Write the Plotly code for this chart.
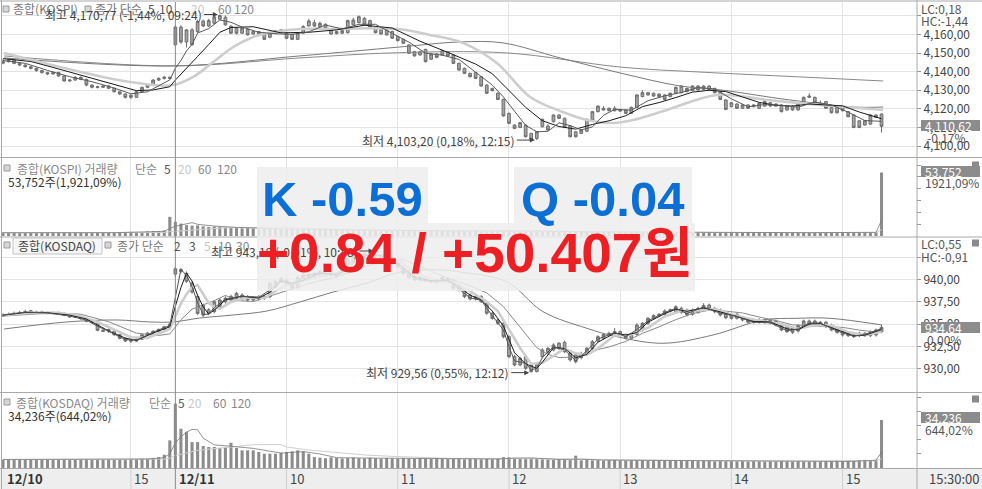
import plotly.graph_objects as go
from plotly.subplots import make_subplots

# 3-minute bars: 12/10 13:51 ~ 15:30 (31 bars), 12/11 09:00 ~ 15:30 (128 bars)
bar_idx = list(range(159))
hour_ticks = [23, 51, 71, 91, 111, 131, 151]
hour_labels = ['15', '10', '11', '12', '13', '14', '15']
day_ticks = [0, 31]
day_labels = ['12/10', '12/11']

# ---------------- KOSPI ----------------
kospi_open = [
    4144.6, 4145.4, 4146.3, 4144.5, 4143.6, 4142.7, 4141.8, 4140.6, 4139.5, 4138.8,
    4139.5, 4137.7, 4135.0, 4135.5, 4137.0, 4135.9, 4132.8, 4132.0, 4131.6, 4132.3,
    4131.1, 4129.2, 4128.0, 4127.4, 4126.2, 4129.2, 4131.6, 4132.8, 4135.5, 4136.4,
    4137.0, 4154.5, 4164.0, 4156.0, 4162.5, 4161.5, 4167.3, 4164.6, 4166.0, 4168.2,
    4169.3, 4164.5, 4163.4, 4160.7, 4162.8, 4161.6, 4160.3, 4160.7, 4158.5, 4160.7,
    4161.5, 4160.7, 4160.0, 4157.4, 4160.7, 4164.6, 4166.4, 4164.3, 4165.5, 4160.3,
    4161.6, 4160.7, 4161.0, 4165.2, 4166.4, 4168.7, 4167.5, 4163.4, 4162.8, 4162.8,
    4161.6, 4158.9, 4157.4, 4154.4, 4150.8, 4149.0, 4152.0, 4146.7, 4149.5, 4149.0,
    4150.8, 4149.0, 4144.5, 4141.8, 4139.1, 4139.5, 4137.3, 4132.8, 4131.0, 4128.4,
    4125.1, 4117.6, 4111.3, 4110.0, 4111.3, 4106.8, 4104.1, 4110.4, 4110.8, 4113.1,
    4116.7, 4114.9, 4110.8, 4107.7, 4106.8, 4108.0, 4114.0, 4118.5, 4120.3, 4120.3,
    4119.0, 4119.7, 4119.4, 4117.6, 4120.8, 4126.6, 4128.7, 4128.4, 4128.0, 4127.5,
    4126.6, 4128.4, 4128.7, 4129.3, 4129.8, 4132.3, 4130.5, 4132.3, 4131.0, 4129.3,
    4124.8, 4121.2, 4122.6, 4120.3, 4122.1, 4121.2, 4120.3, 4121.5, 4123.3, 4121.5,
    4122.1, 4119.4, 4121.5, 4119.4, 4122.6, 4126.2, 4126.2, 4123.0, 4123.9, 4120.8,
    4120.8, 4120.8, 4118.5, 4116.7, 4113.6, 4111.3, 4111.8, 4116.7, 4117.2]
kospi_high = [
    4146.8, 4147.2, 4146.6, 4145.0, 4144.0, 4143.0, 4142.2, 4141.0, 4140.0, 4140.2,
    4140.0, 4138.0, 4136.0, 4137.6, 4137.4, 4136.2, 4133.2, 4132.4, 4132.8, 4132.6,
    4131.4, 4129.6, 4128.4, 4127.8, 4129.6, 4132.0, 4133.4, 4136.0, 4137.0, 4137.8,
    4137.4, 4165.0, 4165.0, 4163.0, 4163.5, 4168.0, 4168.0, 4168.5, 4170.0, 4170.8,
    4170.3, 4165.0, 4164.0, 4164.0, 4163.5, 4162.0, 4162.0, 4161.0, 4161.0, 4162.5,
    4163.0, 4161.0, 4160.5, 4161.0, 4165.0, 4168.5, 4168.0, 4167.0, 4166.0, 4163.2,
    4162.0, 4162.5, 4168.0, 4169.0, 4170.3, 4169.5, 4168.0, 4164.0, 4163.2, 4163.2,
    4162.0, 4159.3, 4157.8, 4154.8, 4151.2, 4151.2, 4152.4, 4149.9, 4149.9, 4151.7,
    4151.2, 4149.4, 4144.9, 4142.2, 4139.5, 4139.9, 4137.7, 4133.2, 4131.4, 4128.8,
    4125.5, 4118.0, 4111.7, 4113.0, 4111.7, 4107.2, 4108.1, 4114.8, 4111.8, 4117.1,
    4117.1, 4115.3, 4111.2, 4108.1, 4109.0, 4114.8, 4118.9, 4121.9, 4121.5, 4120.7,
    4121.5, 4120.1, 4119.8, 4121.2, 4127.9, 4130.0, 4129.1, 4128.8, 4128.4, 4127.9,
    4128.8, 4132.0, 4132.7, 4131.4, 4132.7, 4132.7, 4132.7, 4132.7, 4131.4, 4129.7,
    4125.2, 4123.7, 4123.0, 4122.5, 4122.5, 4122.5, 4123.4, 4124.3, 4123.7, 4123.0,
    4122.5, 4121.9, 4121.9, 4123.0, 4126.6, 4128.4, 4126.6, 4124.5, 4124.3, 4121.2,
    4121.2, 4121.2, 4118.9, 4117.1, 4114.0, 4114.0, 4117.1, 4117.1, 4117.6]
kospi_low = [
    4144.0, 4145.0, 4144.0, 4143.0, 4142.2, 4141.2, 4140.0, 4139.0, 4138.2, 4138.4,
    4137.2, 4134.6, 4134.6, 4135.2, 4135.4, 4132.2, 4131.0, 4131.0, 4131.2, 4130.6,
    4128.8, 4127.4, 4125.6, 4125.4, 4126.0, 4128.8, 4131.2, 4132.4, 4135.0, 4135.8,
    4136.0, 4153.5, 4155.0, 4153.0, 4154.0, 4161.0, 4164.0, 4164.0, 4165.5, 4168.0,
    4164.8, 4160.3, 4160.0, 4160.3, 4159.5, 4160.0, 4159.8, 4157.0, 4158.0, 4160.3,
    4161.0, 4157.5, 4157.0, 4157.0, 4160.3, 4164.3, 4164.0, 4164.0, 4163.0, 4159.8,
    4160.0, 4160.3, 4160.5, 4165.0, 4166.0, 4165.0, 4163.5, 4160.6, 4159.9, 4159.4,
    4157.6, 4156.3, 4154.9, 4149.5, 4148.1, 4148.6, 4145.0, 4146.3, 4147.3, 4148.6,
    4148.1, 4144.1, 4140.5, 4138.7, 4136.9, 4136.0, 4131.9, 4128.0, 4129.4, 4124.7,
    4115.8, 4111.8, 4109.1, 4109.6, 4104.6, 4103.3, 4103.2, 4110.0, 4108.2, 4112.7,
    4114.5, 4109.6, 4104.6, 4104.6, 4106.4, 4107.6, 4113.6, 4118.1, 4119.0, 4118.6,
    4118.6, 4118.4, 4117.2, 4117.2, 4120.4, 4126.2, 4127.1, 4126.5, 4126.2, 4124.7,
    4126.2, 4128.0, 4128.3, 4128.9, 4129.4, 4129.8, 4130.1, 4129.8, 4128.3, 4124.7,
    4119.3, 4120.8, 4119.9, 4119.9, 4119.9, 4120.8, 4119.9, 4121.1, 4121.1, 4121.1,
    4118.1, 4119.0, 4119.0, 4119.0, 4122.2, 4125.8, 4122.9, 4121.7, 4119.9, 4117.5,
    4117.5, 4118.6, 4115.4, 4109.6, 4109.6, 4110.9, 4111.4, 4115.0, 4107.2]
kospi_close = [
    4145.4, 4146.3, 4144.5, 4143.6, 4142.7, 4141.8, 4140.6, 4139.5, 4138.8, 4139.5,
    4137.7, 4135.0, 4135.5, 4137.0, 4135.9, 4132.8, 4131.6, 4131.6, 4132.3, 4131.1,
    4129.2, 4128.0, 4126.2, 4126.2, 4129.2, 4131.6, 4132.8, 4135.5, 4136.4, 4137.0,
    4136.4, 4164.0, 4156.0, 4162.5, 4154.5, 4167.0, 4164.6, 4167.5, 4169.5, 4170.2,
    4165.2, 4160.7, 4160.7, 4163.4, 4159.8, 4160.3, 4161.6, 4157.4, 4160.7, 4162.1,
    4162.5, 4158.0, 4157.4, 4160.7, 4164.3, 4167.3, 4164.6, 4166.0, 4163.4, 4162.8,
    4160.5, 4162.1, 4167.5, 4167.8, 4169.6, 4165.2, 4163.9, 4161.0, 4160.3, 4159.8,
    4158.0, 4156.7, 4155.3, 4149.9, 4148.5, 4150.8, 4145.4, 4149.5, 4147.7, 4151.3,
    4148.5, 4144.5, 4140.9, 4139.1, 4137.3, 4136.4, 4132.3, 4128.4, 4129.8, 4125.1,
    4116.2, 4112.2, 4109.5, 4112.6, 4105.0, 4103.6, 4107.7, 4114.4, 4108.6, 4116.7,
    4114.9, 4110.0, 4105.0, 4105.0, 4108.6, 4114.4, 4118.5, 4121.5, 4119.4, 4119.0,
    4120.3, 4118.8, 4117.6, 4120.8, 4127.5, 4128.7, 4127.5, 4126.9, 4126.6, 4125.1,
    4128.4, 4131.6, 4132.3, 4131.0, 4132.3, 4130.2, 4132.3, 4130.2, 4128.7, 4125.1,
    4119.7, 4123.3, 4120.3, 4122.1, 4120.3, 4122.1, 4123.0, 4123.9, 4121.5, 4122.6,
    4118.5, 4121.5, 4119.4, 4122.6, 4126.2, 4126.9, 4123.3, 4122.1, 4120.3, 4117.9,
    4117.9, 4119.0, 4115.8, 4110.0, 4110.0, 4113.6, 4116.7, 4115.4, 4110.6]

# moving averages (bar index, value)
kospi_ma5_x = [0, 4, 8, 12, 16, 20, 23, 26, 30, 31, 32, 33, 34, 35, 37, 39, 41, 43, 46, 49,
               52, 55, 58, 61, 64, 67, 70, 73, 76, 79, 82, 85, 88, 90, 92, 94, 96, 98, 100, 102,
               104, 106, 108, 110, 113, 116, 119, 122, 125, 128, 131, 134, 137, 140, 143, 146,
               149, 152, 155, 158]
kospi_ma5 = [4146.0, 4144.5, 4140.7, 4137.3, 4134.6, 4131.2, 4128.1, 4129.2, 4135.6, 4141.9,
             4146.0, 4151.2, 4154.7, 4160.8, 4163.2, 4167.8, 4166.6, 4164.0, 4161.2, 4160.4,
             4160.1, 4161.5, 4165.1, 4163.0, 4165.5, 4165.5, 4160.6, 4155.9, 4150.0, 4148.9,
             4146.6, 4139.6, 4132.8, 4126.4, 4118.6, 4111.1, 4107.7, 4107.9, 4112.5, 4111.0,
             4108.7, 4110.3, 4116.5, 4119.7, 4119.3, 4124.4, 4127.0, 4128.8, 4131.5, 4130.7,
             4125.4, 4121.1, 4122.3, 4121.9, 4120.9, 4123.7, 4122.1, 4118.2, 4113.7, 4113.3]
kospi_ma10_x = [0, 5, 9, 14, 19, 24, 27, 30, 31, 33, 35, 37, 39, 41, 45, 50, 55, 60, 65, 70,
                75, 80, 85, 88, 91, 94, 97, 100, 103, 106, 109, 112, 115, 118, 121, 124, 127,
                130, 133, 136, 139, 142, 145, 148, 151, 154, 156, 158]
kospi_ma10 = [4147.0, 4145.5, 4142.3, 4138.1, 4134.1, 4129.8, 4130.2, 4131.9, 4135.5, 4142.1,
              4148.2, 4154.6, 4161.2, 4163.8, 4164.2, 4160.9, 4161.2, 4162.5, 4165.0, 4163.5,
              4156.4, 4150.4, 4144.1, 4138.9, 4129.8, 4120.8, 4113.6, 4110.5, 4109.1, 4111.6,
              4113.6, 4116.3, 4121.2, 4123.4, 4126.1, 4129.0, 4130.0, 4129.3, 4126.4, 4123.5,
              4121.9, 4121.5, 4122.6, 4122.3, 4121.6, 4118.3, 4116.3, 4114.7]
kospi_ma20_x = [0.2, 22.8, 30.6, 34.2, 37.8, 41.4, 45, 48.6, 53.4, 58.8, 70.9, 76.8, 82.7, 88.8,
                94.8, 100.7, 105, 109.7, 113.3, 119.4, 128.4, 137.4, 149.3, 158.3]
kospi_ma20 = [4150.1, 4134.5, 4132.8, 4137.2, 4145.2, 4153.3, 4158.7, 4161.4, 4163.0, 4163.0,
              4163.0, 4159.8, 4155.5, 4144.7, 4126.4, 4118.3, 4114.0, 4112.4, 4114.0, 4119.4,
              4127.5, 4124.8, 4121.5, 4119.4]
kospi_ma60_x = [0.2, 30.6, 53.4, 71.4, 82.2, 89.9, 100.2, 111, 121.8, 129, 141.5, 152.9, 158.3]
kospi_ma60 = [4147.4, 4143.1, 4148.5, 4153.3, 4156.0, 4155.5, 4147.4, 4139.3, 4132.3, 4130.2,
              4124.8, 4121.0, 4121.0]
kospi_ma120_x = [0.2, 30.6, 53.4, 70.1, 90.6, 111, 125.4, 143.3, 158.3]
kospi_ma120 = [4148.5, 4143.1, 4147.4, 4150.1, 4150.1, 4142.5, 4139.8, 4137.2, 4135.0]

kospi_volume = [
    3100, 2600, 2900, 2400, 2700, 3000, 2500, 2800, 2600, 3200,
    2700, 2900, 2500, 2600, 3000, 2800, 2500, 2700, 2900, 2600,
    3100, 2800, 3300, 3500, 3000, 3400, 3800, 4200, 4000, 4600,
    16200,
    12000, 10500, 9200, 8800, 9000, 8200, 7600, 8000, 7800, 7200,
    6800, 7000, 6500, 6700, 6300, 6000, 6200, 5900, 6100, 5800,
    5600, 5700, 5400, 5500, 5600, 5300, 5200, 5400,
    5100, 5000, 5200, 4900, 4800, 5000, 4700, 4600, 4800, 4500,
    4600, 4400, 4500, 4300, 4600, 4400, 4200, 4500, 4300, 4100,
    4400, 4200, 4000, 4300, 4100, 3900, 4200, 4000, 3800, 4100,
    4300, 4800, 4600, 4200, 4000, 4400, 4100, 4300, 3900, 3700,
    3800, 3600, 3500, 3700, 3400, 3600, 3500, 3300, 3400, 3200,
    3300, 3100, 3200, 3400, 3000, 3100, 3300, 3000, 3200, 2900,
    3100, 3000, 2800, 3000, 2900, 3100, 2800, 2900, 3000, 2700,
    2900, 3100, 2800, 3000, 2700, 2900, 2800, 2600, 2900, 2700,
    2800, 3000, 2700, 2900, 2600, 2800, 2700, 2900, 2600, 2800,
    2700, 2900, 3000, 2800, 3100, 2900, 3200, 3000, 3300,
    53752]
kospi_vol_ma5_x = [0, 20, 28, 29, 30, 31, 32, 33, 34, 35, 38, 42, 50, 60, 70, 80, 90, 95, 105,
                   115, 125, 135, 145, 157, 158]
kospi_vol_ma5 = [2800, 2800, 3800, 4000, 6400, 8200, 9300, 10400, 11300, 9900, 8400, 7300, 6000,
                 5300, 4600, 4300, 4300, 4300, 3500, 3200, 3000, 2800, 2800, 3100, 13200]
kospi_vol_ma20_x = [0, 29, 30, 35, 40, 50, 55, 60, 70, 80, 90, 100, 110, 120, 130, 140, 150, 157, 158]
kospi_vol_ma20 = [2700, 3000, 3700, 5600, 6900, 7500, 6400, 5800, 5000, 4500, 4200, 4100, 3500,
                  3100, 2950, 2850, 2800, 2900, 5400]

# ---------------- KOSDAQ ----------------
kosdaq_open = [
    935.9, 936.0, 936.1, 936.2, 936.3, 936.5, 936.4, 936.4, 936.3, 936.2,
    936.3, 936.2, 936.0, 935.9, 935.8, 935.6, 935.3, 935.2, 934.3, 934.4,
    934.2, 933.8, 933.4, 933.2, 933.1, 933.3, 933.8, 934.0, 934.2, 934.4,
    934.7, 940.6, 940.9, 940.7, 939.6, 938.1, 937.1, 936.6, 936.4, 937.0,
    937.5, 937.7, 937.9, 938.26, 938.07, 937.7, 937.81, 937.9, 938.07, 939.2,
    939.76, 939.94, 939.46, 939.08, 940.13, 940.2, 940.31, 940.5, 940.69, 940.5,
    940.69, 940.58, 941.63, 942.0, 942.3, 942.56, 942.94, 942.56, 942.75, 942.56,
    942.37, 941.82, 941.25, 940.69, 940.31, 940.2, 940.13, 939.94, 939.94, 939.83,
    940.13, 939.95, 939.38, 938.82, 938.26, 938.08, 938.08, 937.33, 936.21, 935.46,
    935.09, 933.59, 931.35, 930.42, 931.35, 930.42, 929.67, 931.35, 931.84, 932.10,
    932.85, 932.96, 931.72, 931.54, 931.24, 931.72, 932.28, 933.11, 933.41, 933.78,
    933.97, 934.15, 933.78, 933.41, 933.85, 934.34, 935.09, 935.65, 935.95, 936.10,
    936.47, 936.39, 936.77, 936.58, 936.10, 936.32, 936.77, 937.14, 936.77, 936.58,
    936.21, 936.02, 935.65, 935.72, 935.46, 935.46, 935.20, 935.46, 935.46, 935.35,
    934.90, 934.71, 934.53, 934.23, 934.71, 935.35, 934.97, 935.20, 935.20, 934.90,
    934.53, 934.15, 933.97, 933.78, 933.70, 933.97, 933.70, 933.78, 934.15]
kosdaq_high = [
    936.2, 936.3, 936.4, 936.5, 936.6, 936.6, 936.5, 936.5, 936.4, 936.4,
    936.4, 936.3, 936.1, 936.0, 935.9, 935.7, 935.4, 935.3, 934.6, 934.5,
    934.3, 933.9, 933.5, 933.3, 933.5, 933.9, 934.1, 934.3, 934.5, 934.8,
    935.1, 941.4, 941.3, 940.9, 939.8, 938.3, 937.3, 936.8, 937.7, 937.9,
    938.1, 938.3, 938.6, 938.45, 938.25, 938.15, 938.25, 938.25, 939.75, 939.95,
    940.3, 940.1, 939.6, 940.4, 940.7, 940.75, 940.85, 941.05, 940.85, 940.95,
    940.85, 941.05, 942.45, 942.75, 942.85, 943.1, 943.1, 943.19, 942.9, 942.75,
    942.55, 942.0, 941.45, 940.85, 940.5, 940.35, 940.3, 940.1, 940.1, 940.4,
    940.3, 940.1, 939.55, 939.0, 938.45, 938.25, 938.25, 937.5, 936.4, 935.65,
    935.25, 933.75, 931.55, 931.35, 931.55, 930.6, 930.6, 932.3, 932.45, 932.85,
    933.0, 933.15, 931.9, 931.7, 931.9, 932.45, 933.2, 933.75, 934.0, 934.15,
    934.55, 934.3, 933.95, 934.0, 935.1, 935.25, 935.8, 936.1, 936.25, 936.65,
    936.75, 937.1, 936.95, 936.75, 936.75, 936.95, 937.35, 937.3, 936.95, 936.75,
    936.4, 936.2, 936.3, 935.9, 935.65, 935.6, 935.65, 935.6, 935.6, 935.5,
    935.05, 934.85, 934.7, 935.0, 935.5, 935.5, 935.5, 935.35, 935.35, 935.05,
    934.7, 934.3, 934.1, 933.95, 934.15, 934.1, 934.3, 934.5, 934.9]
kosdaq_low = [
    935.8, 935.9, 936.0, 936.1, 936.2, 936.2, 936.2, 936.2, 936.1, 936.1,
    936.1, 935.9, 935.7, 935.7, 935.5, 935.2, 935.1, 934.2, 934.1, 934.0,
    933.7, 933.3, 933.0, 932.9, 933.0, 933.2, 933.7, 933.9, 934.1, 934.3,
    934.6, 940.3, 940.7, 939.6, 938.4, 936.0, 935.8, 936.0, 936.2, 936.8,
    937.3, 937.5, 937.7, 937.6, 937.5, 937.5, 937.6, 937.7, 937.9, 939.0,
    939.6, 939.4, 938.85, 938.9, 940.0, 940.0, 940.15, 940.35, 940.25, 940.35,
    940.15, 940.4, 941.45, 941.85, 942.1, 942.4, 942.5, 942.4, 942.2, 942.0,
    941.75, 941.25, 940.5, 940.05, 939.8, 939.8, 939.7, 939.6, 939.5, 939.7,
    939.6, 938.85, 938.65, 937.9, 937.65, 937.65, 937.35, 936.05, 935.5, 934.9,
    933.4, 931.2, 930.25, 930.25, 929.85, 929.56, 929.6, 931.15, 931.65, 931.95,
    932.1, 931.75, 930.8, 930.6, 931.05, 931.55, 932.1, 932.95, 933.25, 933.6,
    933.8, 933.6, 933.25, 933.25, 933.7, 934.15, 934.9, 935.5, 935.8, 935.95,
    936.3, 936.2, 936.15, 935.85, 935.95, 936.15, 936.6, 936.5, 936.2, 935.85,
    935.55, 935.5, 935.5, 935.3, 935.05, 935.05, 935.05, 935.05, 934.95, 934.75,
    934.2, 934.0, 933.9, 934.05, 934.55, 934.75, 934.8, 934.75, 934.55, 934.2,
    933.9, 933.6, 933.55, 933.45, 933.55, 933.55, 933.55, 933.6, 934.0]
kosdaq_close = [
    936.0, 936.1, 936.2, 936.3, 936.4, 936.4, 936.3, 936.3, 936.2, 936.3,
    936.2, 936.0, 935.8, 935.8, 935.6, 935.3, 935.2, 934.3, 934.2, 934.2,
    933.8, 933.4, 933.1, 933.1, 933.3, 933.8, 934.0, 934.2, 934.4, 934.7,
    935.0, 941.2, 941.1, 939.8, 938.6, 936.2, 936.0, 936.2, 937.5, 937.7,
    937.9, 938.1, 938.45, 937.81, 937.7, 937.96, 938.07, 938.07, 939.57, 939.76,
    940.13, 939.57, 939.01, 940.2, 940.5, 940.58, 940.69, 940.87, 940.43, 940.8,
    940.31, 940.87, 942.3, 942.56, 942.67, 942.94, 942.67, 942.94, 942.37, 942.19,
    941.93, 941.44, 940.69, 940.2, 939.94, 939.94, 939.83, 939.76, 939.68, 940.21,
    939.76, 939.01, 938.82, 938.08, 937.82, 937.82, 937.52, 936.21, 935.65, 935.09,
    933.59, 931.35, 930.42, 931.16, 930.04, 929.67, 930.42, 932.10, 932.28, 932.66,
    932.28, 931.91, 930.98, 930.79, 931.72, 932.28, 933.03, 933.59, 933.85, 933.97,
    934.15, 933.78, 933.41, 933.85, 934.90, 935.09, 935.65, 935.95, 936.10, 936.47,
    936.58, 936.95, 936.32, 936.02, 936.58, 936.77, 937.07, 936.69, 936.39, 936.02,
    935.72, 935.65, 936.10, 935.46, 935.20, 935.20, 935.46, 935.20, 935.09, 934.90,
    934.34, 934.15, 934.08, 934.83, 935.35, 934.90, 935.35, 934.90, 934.71, 934.34,
    934.08, 933.78, 933.70, 933.59, 933.97, 933.70, 934.15, 934.34, 934.64]

kosdaq_ma2_x = [0, 4, 8, 12, 15, 17, 19, 22, 24, 27, 30, 31, 32, 33, 34, 35, 36, 37, 38, 40,
                43, 46, 48, 50, 52, 54, 57, 60, 62, 64, 66, 68, 70, 72, 74, 77, 80, 82, 84, 86,
                88, 90, 91, 92, 94, 95, 96, 97, 99, 101, 103, 105, 107, 110, 112, 114, 116, 119,
                121, 123, 126, 129, 132, 135, 138, 141, 143, 145, 147, 150, 153, 155, 158]
kosdaq_ma2 = [936.0, 936.35, 936.25, 935.9, 935.45, 934.75, 934.2, 933.25, 933.2, 934.1,
              934.85, 938.1, 941.15, 940.45, 939.2, 937.4, 936.1, 936.1, 936.85, 937.8,
              938.13, 938.02, 938.82, 939.95, 939.29, 940.35, 940.78, 940.56, 941.59, 942.62,
              942.81, 942.66, 942.06, 941.07, 940.07, 939.8, 939.99, 938.92, 937.95, 937.67,
              935.93, 934.34, 932.47, 930.89, 930.6, 929.86, 930.05, 931.26, 932.47, 932.1,
              930.89, 932.0, 933.31, 934.06, 933.6, 934.38, 935.37, 936.29, 936.77, 936.17,
              936.92, 936.21, 935.88, 935.2, 935.15, 934.25, 934.46, 935.13, 935.13, 934.21,
              933.65, 933.84, 934.49]
kosdaq_ma3 = [936.0, 936.3, 936.27, 936.0, 935.57, 934.93, 934.23, 933.43, 933.17, 934.0,
              934.7, 937.0, 939.1, 940.7, 939.83, 938.2, 936.93, 936.13, 936.57, 937.7,
              938.12, 937.91, 938.57, 939.82, 939.57, 939.9, 940.71, 940.51, 941.16, 942.51,
              942.76, 942.66, 942.16, 941.35, 940.28, 939.84, 939.88, 939.2, 938.24, 937.72,
              936.46, 934.78, 933.34, 931.79, 930.54, 930.29, 930.04, 930.73, 932.35, 932.28,
              931.23, 931.6, 932.97, 933.99, 933.78, 934.05, 935.21, 936.17, 936.67, 936.43,
              936.81, 936.37, 935.82, 935.29, 935.25, 934.46, 934.35, 935.03, 935.05, 934.38,
              933.69, 933.75, 934.38]
kosdaq_ma5_x = [0, 5, 10, 14, 17, 20, 23, 26, 28, 30, 31, 32, 33, 34, 35, 36, 37, 38, 39, 41,
                44, 47, 49, 51, 53, 56, 59, 61, 63, 65, 67, 69, 71, 73, 75, 78, 81, 84, 87, 89,
                91, 93, 95, 97, 99, 101, 103, 105, 107, 110, 113, 116, 119, 122, 125, 128, 131,
                134, 137, 140, 143, 146, 149, 152, 155, 158]
kosdaq_ma5 = [936.0, 936.28, 936.26, 935.88, 935.24, 934.34, 933.52, 933.46, 933.94, 934.46,
              935.9, 937.28, 938.36, 939.14, 939.38, 938.34, 937.36, 936.9, 936.72, 937.48,
              937.99, 937.92, 938.69, 939.42, 939.73, 940.2, 940.67, 940.66, 941.37, 942.27,
              942.76, 942.62, 942.17, 941.29, 940.44, 939.83, 939.68, 938.7, 937.49, 936.46,
              934.38, 932.32, 930.53, 930.68, 931.43, 932.25, 931.72, 931.54, 932.28, 933.72,
              933.83, 934.58, 935.85, 936.48, 936.53, 936.7, 936.09, 935.63, 935.3, 935.0,
              934.46, 934.9, 934.84, 934.12, 933.75, 934.16]
kosdaq_ma10_x = [0, 9, 14, 19, 24, 28, 30, 32, 34, 36, 38, 40, 42, 45, 50, 55, 60, 64, 68, 72,
                 76, 80, 84, 87, 90, 92, 94, 96, 98, 100, 103, 106, 109, 112, 115, 118, 121, 124,
                 127, 130, 133, 136, 139, 142, 145, 148, 151, 154, 158]
kosdaq_ma10 = [935.9, 936.25, 936.11, 935.26, 933.99, 933.73, 933.9, 935.48, 936.68, 937.12,
               937.63, 938.22, 937.65, 937.53, 938.56, 939.55, 940.3, 941.21, 942.04, 942.24,
               941.15, 940.15, 939.29, 938.49, 936.96, 935.36, 933.89, 932.36, 931.61, 931.25,
               931.31, 932.0, 932.44, 933.06, 933.96, 934.69, 935.5, 936.17, 936.56, 936.45,
               936.25, 935.79, 935.4, 934.91, 934.83, 934.75, 934.63, 934.33, 934.03]
kosdaq_ma30_x = [0.2, 11.5, 20.5, 26.4, 30.6, 35.4, 41.4, 47.5, 53.4, 59.4, 65.5, 71.4, 78.6,
                 82.7, 90.6, 97.1, 105, 110.4, 118.7, 127.7, 136.7, 142.8, 148.7, 158.1]
kosdaq_ma30 = [934.45, 935.24, 935.46, 935.24, 935.24, 935.68, 936.02, 936.47, 937.48, 938.6,
               939.61, 940.84, 941.07, 940.8, 939.75, 936.4, 934.53, 933.59, 932.85, 933.78,
               935.46, 935.65, 935.65, 934.9]

kosdaq_volume = [
    6000, 6200, 5800, 6300, 6000, 5900, 6400, 6100, 5800, 6000,
    6200, 6500, 5900, 6000, 6300, 6100, 5700, 6000, 5800, 6200,
    5900, 6100, 5800, 6300, 6400, 6800, 6600, 7200, 7800, 9500,
    19700,
    45900, 28000, 25600, 18500, 18500, 15700, 15000, 15000, 14300, 15000,
    18000, 14300, 12600, 12600, 12600, 11400, 10200, 10200, 10200, 10900,
    11400, 11900, 12600, 11900, 10200, 7800,
    7400, 7000, 7600, 7200, 6800, 7100, 7500, 7000, 6900, 7300,
    7000, 6700, 7100, 6800, 6600, 7000, 6700, 6500, 6900, 6600,
    6400, 6800, 6500, 6300, 6700, 6400, 6200, 6600, 6300, 6100,
    6500, 6200, 7000,
    7800, 7600, 7200, 6800, 6500, 7000, 6600, 6200, 6000, 5800,
    6100, 5700, 5600, 8800, 5500, 5800, 5400, 5600, 5300, 5500,
    5700, 5400, 5200, 5500, 5300, 5600, 5100, 5400, 5200, 5000,
    5300, 5100, 5400, 5000, 5200, 4900, 5100, 5000, 4800, 5200,
    4900, 5100, 4800, 5000, 4700, 5000, 4800, 4600, 4900, 4700,
    5000, 4800, 4600, 4900, 4700, 4500, 4800, 4600, 4900, 5100,
    5300, 5000, 5400, 5200, 5600, 5800, 5500, 5900,
    34236]
kosdaq_vol_ma5_x = [0, 10, 20, 26, 28, 29, 30, 31, 32, 33, 34, 35, 36, 38, 41, 45, 50, 54, 57,
                    60, 65, 70, 80, 89, 92, 95, 100, 104, 108, 115, 125, 135, 145, 152, 157, 158]
kosdaq_vol_ma5 = [6100, 6100, 6000, 6400, 7000, 7500, 10100, 18000, 22200, 25700, 27500, 27300,
                  21300, 16500, 15500, 14000, 10600, 11700, 10000, 7400, 7100, 7000, 6600, 6400,
                  7100, 7200, 6100, 6300, 5600, 5400, 5200, 5000, 4800, 4700, 5500, 11400]
kosdaq_vol_ma20_x = [0, 20, 29, 30, 31, 35, 40, 45, 50, 51, 55, 60, 65, 70, 80, 90, 95, 100, 110,
                     120, 130, 140, 150, 157, 158]
kosdaq_vol_ma20 = [6000, 6050, 6400, 7000, 8900, 12600, 14700, 16600, 16700, 15000, 12800, 10900,
                   9300, 8300, 6900, 6700, 6800, 6500, 6000, 5400, 5100, 5000, 4800, 5100, 6500]

# ---------------- layout helpers (pixel -> paper) ----------------
W, H = 982, 489
ML, MR, MT, MB = 2, 66, 2, 21
PW, PH = W - ML - MR, H - MT - MB


def fx(x):
    return (x - ML) / PW


def fy(y):
    return (H - MB - y) / PH


SMALL = 'Noto Sans CJK KR'
BIG = 'Liberation Sans, Noto Sans CJK KR'
GRID = '#e3e3e3'

fig = make_subplots(rows=4, cols=1, shared_xaxes=True, vertical_spacing=0.0)

candle_look = dict(
    increasing=dict(line=dict(color='#6e6e6e', width=1), fillcolor='#a3a3a3'),
    decreasing=dict(line=dict(color='#6e6e6e', width=1), fillcolor='#a3a3a3'),
    whiskerwidth=0, hoverinfo='none', showlegend=False)

# KOSPI price
fig.add_trace(go.Scatter(x=kospi_ma120_x, y=kospi_ma120, mode='lines',
                         line=dict(color='#8a8a8a', width=1, shape='spline')), row=1, col=1)
fig.add_trace(go.Scatter(x=kospi_ma60_x, y=kospi_ma60, mode='lines',
                         line=dict(color='#7a7a7a', width=1, shape='spline')), row=1, col=1)
fig.add_trace(go.Scatter(x=kospi_ma20_x, y=kospi_ma20, mode='lines',
                         line=dict(color='#cdcdcd', width=2.6, shape='spline')), row=1, col=1)
fig.add_trace(go.Candlestick(x=bar_idx, open=kospi_open, high=kospi_high, low=kospi_low,
                             close=kospi_close, **candle_look), row=1, col=1)
fig.add_trace(go.Scatter(x=kospi_ma10_x, y=kospi_ma10, mode='lines',
                         line=dict(color='#1a1a1a', width=1)), row=1, col=1)
fig.add_trace(go.Scatter(x=kospi_ma5_x, y=kospi_ma5, mode='lines',
                         line=dict(color='#5a5a5a', width=1)), row=1, col=1)

# KOSPI volume
fig.add_trace(go.Bar(x=bar_idx, y=kospi_volume, width=0.55, marker_color='#8c8c8c',
                     marker_line_width=0), row=2, col=1)
fig.add_trace(go.Scatter(x=kospi_vol_ma20_x, y=kospi_vol_ma20, mode='lines',
                         line=dict(color='#cfcfcf', width=1)), row=2, col=1)
fig.add_trace(go.Scatter(x=kospi_vol_ma5_x, y=kospi_vol_ma5, mode='lines',
                         line=dict(color='#777777', width=0.8)), row=2, col=1)

# KOSDAQ price
fig.add_trace(go.Scatter(x=kosdaq_ma30_x, y=kosdaq_ma30, mode='lines',
                         line=dict(color='#7a7a7a', width=1, shape='spline')), row=3, col=1)
fig.add_trace(go.Scatter(x=kosdaq_ma10_x, y=kosdaq_ma10, mode='lines',
                         line=dict(color='#8a8a8a', width=1)), row=3, col=1)
fig.add_trace(go.Scatter(x=kosdaq_ma5_x, y=kosdaq_ma5, mode='lines',
                         line=dict(color='#cdcdcd', width=2.6)), row=3, col=1)
fig.add_trace(go.Candlestick(x=bar_idx, open=kosdaq_open, high=kosdaq_high, low=kosdaq_low,
                             close=kosdaq_close, **candle_look), row=3, col=1)
fig.add_trace(go.Scatter(x=kosdaq_ma2_x, y=kosdaq_ma3, mode='lines',
                         line=dict(color='#1a1a1a', width=1)), row=3, col=1)
fig.add_trace(go.Scatter(x=kosdaq_ma2_x, y=kosdaq_ma2, mode='lines',
                         line=dict(color='#555555', width=1)), row=3, col=1)

# KOSDAQ volume
fig.add_trace(go.Bar(x=bar_idx, y=kosdaq_volume, width=0.55, marker_color='#8c8c8c',
                     marker_line_width=0), row=4, col=1)
fig.add_trace(go.Scatter(x=kosdaq_vol_ma20_x, y=kosdaq_vol_ma20, mode='lines',
                         line=dict(color='#cfcfcf', width=1)), row=4, col=1)
fig.add_trace(go.Scatter(x=kosdaq_vol_ma5_x, y=kosdaq_vol_ma5, mode='lines',
                         line=dict(color='#777777', width=0.8)), row=4, col=1)

# axes
fig.update_xaxes(range=[-0.18, 164.2], tickvals=hour_ticks, showticklabels=False,
                 showgrid=True, gridcolor=GRID, gridwidth=1, zeroline=False,
                 rangeslider_visible=False, showline=False, ticks='')

yfont = dict(family=SMALL, size=12, color='#444')
common_y = dict(side='right', ticks='outside', ticklen=4, tickcolor='#999', tickfont=yfont,
                zeroline=False, showline=False)
fig.update_layout(
    yaxis=dict(domain=[fy(157), fy(2)], range=[4094.1, 4177.5],
               tickvals=[4100, 4110, 4120, 4130, 4140, 4150, 4160, 4170],
               ticktext=['4,100,00', '4,110,00', '4,120,00', '4,130,00', '4,140,00',
                         '4,150,00', '4,160,00', ''],
               showgrid=True, gridcolor=GRID, **common_y),
    yaxis2=dict(domain=[fy(236), fy(158)], range=[0, 66000],
                tickvals=[10000, 20000, 30000, 40000, 50000, 60000], ticktext=[''] * 6,
                showgrid=False, **common_y),
    yaxis3=dict(domain=[fy(392), fy(237)], range=[927.39, 944.76],
                tickvals=[930, 932.5, 935, 937.5, 940, 942.5],
                ticktext=['930,00', '932,50', '935,00', '937,50', '940,00', ''],
                showgrid=True, gridcolor=GRID, **common_y),
    yaxis4=dict(domain=[0, fy(393)], range=[0, 53500],
                tickvals=[10000, 20000, 30000, 40000, 50000], ticktext=[''] * 5,
                showgrid=False, **common_y),
)

shapes = []
# bottom time strip and frame lines
shapes.append(dict(type='rect', xref='paper', yref='paper', x0=fx(0), x1=fx(982),
                   y0=fy(489), y1=fy(469), fillcolor='#eeeeee', line_width=0, layer='below'))
for yy in [1, 157.5, 237, 392.5, 468.5]:
    shapes.append(dict(type='line', xref='paper', yref='paper', x0=fx(0), x1=fx(982),
                       y0=fy(yy), y1=fy(yy), line=dict(color='#a9a9a9', width=1)))
shapes.append(dict(type='line', xref='paper', yref='paper', x0=fx(917), x1=fx(917),
                   y0=fy(489), y1=fy(0), line=dict(color='#a9a9a9', width=1)))
shapes.append(dict(type='line', xref='paper', yref='paper', x0=fx(1.5), x1=fx(1.5),
                   y0=fy(489), y1=fy(0), line=dict(color='#a9a9a9', width=1)))
for t in hour_ticks:
    shapes.append(dict(type='line', xref='x4', yref='paper', x0=t, x1=t,
                       y0=fy(489), y1=fy(469), line=dict(color='#d0d0d0', width=1)))
shapes.append(dict(type='line', xref='x4', yref='paper', x0=day_ticks[1], x1=day_ticks[1],
                   y0=fy(489), y1=1, line=dict(color='#8c8c8c', width=1)))

# little legend squares
for sx, sy in [(6, 9), (88, 9), (7, 168), (7, 245), (108, 245), (7, 402)]:
    shapes.append(dict(type='rect', xref='paper', yref='paper', x0=fx(sx - 3), x1=fx(sx + 3),
                       y0=fy(sy + 3), y1=fy(sy - 3), fillcolor='#d6d6d6',
                       line=dict(color='#9a9a9a', width=1)))
shapes.append(dict(type='rect', xref='paper', yref='paper', x0=fx(13), x1=fx(102),
                   y0=fy(254), y1=fy(238), fillcolor='rgba(245,245,245,0.9)',
                   line=dict(color='#c4c4c4', width=1)))
# close icons
for sy in [165, 243, 399]:
    shapes.append(dict(type='rect', xref='paper', yref='paper', x0=fx(972), x1=fx(979),
                       y0=fy(sy + 3.5), y1=fy(sy - 3.5), fillcolor='#8a8a8a', line_width=0))
# current value boxes on the right scale
for y0, y1 in [(120, 131), (166, 177), (322, 333), (412, 423)]:
    shapes.append(dict(type='rect', xref='paper', yref='paper', x0=fx(921), x1=fx(980),
                       y0=fy(y1), y1=fy(y0), fillcolor='#8c8c8c', line_width=0, layer='above'))
# overlay boxes
box_fill = 'rgba(238,238,238,0.86)'
for x0, x1, y0, y1 in [(257, 428, 167, 223), (514, 692, 167, 223), (257, 695, 223, 291)]:
    shapes.append(dict(type='rect', xref='paper', yref='paper', x0=fx(x0), x1=fx(x1),
                       y0=fy(y1), y1=fy(y0), fillcolor=box_fill, line_width=0, layer='above'))

ann = []


def txt(s, x, y, color='#777', size=12, anchor='left', family=SMALL):
    ann.append(dict(text=s, x=fx(x), y=fy(y), xref='paper', yref='paper', xanchor=anchor,
                    yanchor='middle', showarrow=False,
                    font=dict(color=color, size=size, family=family)))


# panel headers
txt('종합(KOSPI)', 11, 9, '#777')
txt('종가 단순', 93, 9, '#777')
txt('5', 146, 9, '#555')
txt('10', 157, 9, '#555')
txt('20', 189, 9, '#c8c8c8')
txt('60', 216, 9, '#888')
txt('120', 232, 9, '#888')

txt('종합(KOSPI) 거래량', 15, 168, '#888')
txt('단순', 133, 168, '#888')
txt('5', 162, 168, '#555')
txt('20', 176, 168, '#c8c8c8')
txt('60', 196, 168, '#888')
txt('120', 215, 168, '#888')
txt('53,752주(1,921,09%)', 6, 181, '#333')

txt('종합(KOSDAQ)', 16, 246, '#444')
txt('종가 단순', 115, 246, '#777')
txt('2', 172, 246, '#555')
txt('3', 187, 246, '#555')
txt('5', 202, 246, '#c8c8c8')
txt('10', 216, 246, '#888')
txt('30', 234, 246, '#888')

txt('종합(KOSDAQ) 거래량', 14, 402, '#888')
txt('단순', 147, 402, '#888')
txt('5', 176, 402, '#555')
txt('20', 186, 402, '#c8c8c8')
txt('60', 211, 402, '#888')
txt('120', 229, 402, '#888')
txt('34,236주(644,02%)', 6, 415, '#333')

# right scale notes
txt('LC:0,18', 919, 8, '#555')
txt('HC:-1,44', 919, 20, '#555')
txt('4,110,62', 923, 125.5, 'white')
txt('-0,17%', 925, 137, '#555')
txt('53,752', 923, 171.5, 'white')
txt('1921,09%', 923, 183, '#555')
txt('LC:0,55', 919, 243, '#555')
txt('HC:-0,91', 919, 256, '#555')
txt('934,64', 923, 327.5, 'white')
txt('0,00%', 925, 339, '#555')
txt('34,236', 923, 417.5, 'white')
txt('644,02%', 923, 429, '#555')
txt('15:30:00', 927, 479, '#444', size=13)

# time labels
for t, lab in zip(day_ticks, day_labels):
    ann.append(dict(text='<b>' + lab + '</b>', x=t, xref='x4', y=fy(479), yref='paper',
                    xanchor='left', yanchor='middle', xshift=2, showarrow=False,
                    font=dict(color='#333', size=13, family=SMALL)))
for t, lab in zip(hour_ticks, hour_labels):
    ann.append(dict(text=lab, x=t, xref='x4', y=fy(479), yref='paper', xanchor='left',
                    yanchor='middle', xshift=1, showarrow=False,
                    font=dict(color='#444', size=13, family=SMALL)))

# high / low markers
marks = [
    ('최고 4,170,77 (-1,44%, 09:24)', 39, 4170.77, 'x', 'y', -16),
    ('최저 4,103,20 (0,18%, 12:15)', 96, 4103.20, 'x', 'y', -20),
    ('최고 943,19 (-0,91%, 10:48)', 67, 943.19, 'x3', 'y3', -16),
    ('최저 929,56 (0,55%, 12:12)', 95, 929.56, 'x3', 'y3', -20),
]
for s, mx, my, xr, yr, off in marks:
    ann.append(dict(text=s, x=mx, y=my, xref=xr, yref=yr, showarrow=True, ax=off, ay=0,
                    xanchor='right', yanchor='middle', arrowhead=2, arrowsize=1,
                    arrowwidth=1, arrowcolor='#444', standoff=2,
                    font=dict(color='#444', size=12, family=SMALL)))

# big overlay figures
ann.append(dict(text='<b>K -0.59</b>', x=fx(342), y=fy(199), xref='paper', yref='paper',
                showarrow=False, xanchor='center', yanchor='middle',
                font=dict(color='#0b6fd3', size=49, family=BIG)))
ann.append(dict(text='<b>Q -0.04</b>', x=fx(602), y=fy(199), xref='paper', yref='paper',
                showarrow=False, xanchor='center', yanchor='middle',
                font=dict(color='#0b6fd3', size=49, family=BIG)))
ann.append(dict(text='<b>+0.84 / +50.407원</b>', x=fx(475), y=fy(253), xref='paper',
                yref='paper', showarrow=False, xanchor='center', yanchor='middle',
                font=dict(color='#ec2024', size=55, family=BIG)))

fig.update_layout(
    width=W, height=H, margin=dict(l=ML, r=MR, t=MT, b=MB),
    paper_bgcolor='white', plot_bgcolor='white', showlegend=False, hovermode=False,
    bargap=0.3, shapes=shapes, annotations=ann,
)

# the page's default body margin would push the 982x489 figure out of the window
fig.write_html("out.html", config={'displayModeBar': False},
               post_script="document.body.style.margin='0';document.body.style.overflow='hidden';")
